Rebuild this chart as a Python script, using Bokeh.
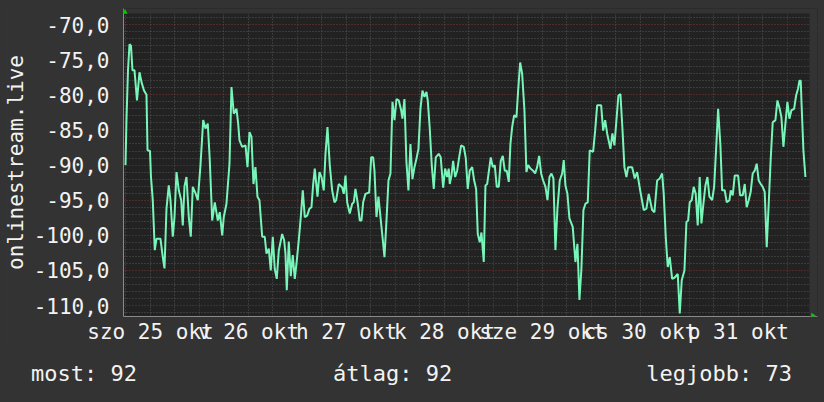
from bokeh.plotting import figure
from bokeh.layouts import column
from bokeh.models import (Range1d, FixedTicker, Grid, PolyAnnotation, Div,
                          BoxAnnotation, GlobalInlineStyleSheet)
from bokeh.embed import file_html
from bokeh.resources import INLINE

# ---- data (hours since 2025-10-25 00:00, signal in dB) ----
hours = [
    5.88, 6.12, 6.49, 6.86, 7.22, 7.59, 8.08, 8.69, 9.31, 9.80, 10.41, 11.02, 11.27, 11.88,
    12.12, 12.56, 13.05, 13.47, 14.45, 15.01, 15.43, 15.92, 16.48, 16.90, 17.46, 17.88,
    18.37, 18.93, 19.52, 19.91, 20.33, 20.82, 21.38, 21.87, 22.36, 23.02, 23.58, 24.25,
    24.91, 25.47, 26.03, 26.52, 26.94, 27.11, 27.75, 28.48, 28.97, 29.56, 29.95, 30.61,
    31.35, 31.84, 32.40, 33.06, 33.48, 33.80, 34.46, 35.27, 35.76, 36.25, 36.74, 37.22,
    37.71, 38.20, 38.69, 39.36, 39.99, 40.41, 40.97, 41.46, 41.95, 42.44, 42.93, 43.42,
    44.25, 44.74, 45.06, 45.38, 45.87, 46.36, 46.85, 47.34, 47.83, 48.32, 48.81, 49.30,
    49.79, 50.38, 50.94, 51.43, 51.85, 52.24, 52.90, 53.39, 53.88, 54.44, 54.86, 55.35,
    55.91, 56.50, 57.06, 57.48, 58.11, 58.95, 59.34, 59.76, 60.17, 60.81, 61.40, 61.79,
    62.20, 62.77, 63.26, 63.67, 64.09, 64.65, 65.56, 66.05, 66.54, 66.86, 67.35, 67.84,
    68.33, 68.82, 69.31, 69.80, 70.29, 70.78, 71.27, 71.76, 72.25, 72.81, 73.40, 73.71,
    74.20, 74.69, 75.18, 75.67, 76.16, 76.65, 77.14, 77.63, 78.12, 78.61, 79.10, 79.59,
    79.91, 80.40, 80.89, 81.38, 81.87, 82.60, 83.09, 83.68, 84.17, 84.66, 85.05, 85.30,
    85.72, 86.13, 86.62, 87.11, 87.60, 88.09, 88.73, 89.22, 89.71, 90.20, 90.79, 91.28,
    91.76, 92.16, 92.65, 93.06, 93.63, 94.04, 94.46, 94.85, 95.34, 95.83, 96.32, 96.81,
    97.30, 97.79, 98.28, 98.77, 99.26, 99.75, 100.16, 100.58, 101.07, 101.63, 102.05, 102.54,
    103.03, 103.59, 104.08, 104.50, 105.06, 105.72, 106.21, 106.70, 107.19, 107.68, 108.17, 108.74,
    109.23, 109.72, 110.21, 110.69, 111.18, 111.67, 112.24, 112.83, 113.22, 113.63, 114.12, 114.61,
    115.42, 116.08, 116.57, 117.06, 117.55, 118.04, 118.53, 119.10, 119.58, 120.42, 120.91, 121.40,
    122.38, 122.87, 123.36, 123.85, 124.65, 125.14, 125.63, 126.12, 126.61, 127.10, 127.59, 128.08,
    128.57, 128.99, 129.97, 130.61, 131.19, 132.00, 132.81, 133.47, 134.03, 134.87, 135.43, 136.09,
    136.73, 137.32, 137.71, 138.20, 138.69, 139.18, 139.77, 140.40, 141.14, 141.63, 142.12, 142.78,
    143.27, 143.68, 144.07, 144.56, 145.05, 145.54, 146.03, 146.52, 146.94, 147.43, 147.92, 148.41,
    148.90, 149.56, 150.05, 150.54, 151.03, 151.59, 152.01, 152.65, 153.14, 153.80, 154.12, 154.61,
    155.10, 155.93, 156.42, 157.06, 157.55, 158.03, 158.52, 159.01, 159.50, 159.99, 160.48, 160.97,
    161.46, 161.95, 162.44, 162.93, 163.42, 163.91, 164.40, 165.06, 165.55, 166.04, 166.53, 167.02,
    167.51, 168.00, 168.49, 168.98, 169.64, 170.13, 170.62, 170.94, 171.27, 171.43, 171.92, 172.41,
]
signal = [
    -90.0, -83.5, -76.5, -72.8, -73.0, -76.5, -76.5, -80.8, -76.8, -78.2, -79.4, -80.0, -87.9, -88.0,
    -91.7, -95.0, -102.1, -100.5, -100.5, -103.1, -104.7, -96.2, -92.9, -95.0, -100.2, -97.4,
    -91.0, -93.6, -95.0, -98.6, -93.0, -91.7, -97.4, -100.2, -93.1, -94.0, -95.0, -90.0,
    -83.6, -84.8, -84.1, -89.3, -95.3, -97.9, -95.3, -97.9, -96.7, -100.0, -97.4, -95.5,
    -89.8, -78.9, -82.7, -82.0, -84.1, -86.5, -87.4, -87.2, -90.3, -85.3, -86.0, -92.7,
    -90.3, -94.5, -95.0, -100.2, -100.2, -102.6, -101.9, -105.0, -100.2, -104.8, -106.2, -102.2,
    -99.8, -100.7, -102.6, -107.8, -100.9, -105.8, -102.8, -106.2, -103.6, -100.7, -97.4, -93.6,
    -97.4, -97.2, -96.2, -96.0, -92.7, -90.5, -94.5, -91.0, -91.7, -93.6, -88.4, -84.6,
    -90.0, -93.6, -95.3, -95.0, -92.7, -93.2, -94.1, -91.5, -95.3, -96.9, -95.5, -95.3,
    -93.4, -95.5, -97.9, -97.9, -95.3, -94.1, -93.9, -88.9, -88.9, -90.8, -97.4, -94.5,
    -97.4, -100.2, -103.1, -97.9, -92.2, -91.2, -81.0, -83.6, -80.6, -80.8, -82.2, -83.4,
    -80.6, -89.6, -93.6, -87.0, -92.0, -90.3, -89.1, -87.7, -82.0, -79.4, -80.3, -79.6,
    -80.8, -84.8, -90.0, -93.4, -88.9, -88.4, -88.9, -93.2, -90.5, -91.7, -90.5, -92.7,
    -91.5, -89.4, -91.7, -90.8, -88.9, -87.2, -87.4, -89.0, -93.4, -90.8, -90.3, -92.2,
    -93.4, -99.8, -101.0, -99.6, -103.8, -92.9, -92.7, -91.0, -88.9, -90.3, -90.0, -93.1,
    -93.1, -89.4, -88.7, -90.8, -90.8, -92.4, -87.0, -84.6, -82.9, -83.2, -79.4, -75.4,
    -77.0, -82.2, -91.0, -90.0, -90.5, -90.8, -91.2, -90.3, -88.7, -91.2, -92.2, -93.1,
    -95.0, -91.7, -91.2, -91.9, -102.1, -96.2, -92.2, -91.2, -89.3, -92.9, -94.1, -97.6,
    -98.8, -103.8, -101.2, -109.2, -104.7, -96.4, -95.5, -95.3, -87.9, -88.1, -85.1, -81.5,
    -81.5, -85.1, -83.6, -85.5, -87.7, -85.5, -87.2, -83.6, -80.1, -79.9, -84.8, -90.3,
    -91.7, -90.3, -90.3, -91.9, -91.0, -93.8, -96.4, -96.2, -94.1, -96.4, -96.7, -92.2,
    -91.9, -91.2, -94.1, -100.2, -104.5, -103.1, -106.2, -106.0, -105.5, -111.1, -106.4, -105.0,
    -98.1, -97.9, -95.3, -95.0, -93.1, -94.1, -98.6, -91.7, -98.3, -95.5, -92.9, -91.7,
    -94.5, -95.0, -93.1, -87.7, -82.0, -87.2, -93.6, -93.6, -95.3, -95.0, -93.6, -94.3,
    -91.5, -91.5, -94.3, -94.3, -92.7, -96.0, -95.0, -93.8, -91.2, -90.8, -89.8, -92.2,
    -92.7, -93.1, -93.8, -101.7, -95.5, -89.1, -83.9, -83.6, -80.8, -81.8, -83.2, -87.4,
    -84.1, -81.0, -83.4, -82.2, -82.0, -80.1, -79.1, -78.0, -78.0, -80.8, -87.9, -91.7,
]

y_ticks = [-70, -75, -80, -85, -90, -95, -100, -105, -110]
y_tick_labels = ["-70,0", "-75,0", "-80,0", "-85,0", "-90,0", "-95,0",
                 "-100,0", "-105,0", "-110,0"]
day_label_hours = [12, 36, 60, 84, 108, 132, 156]
day_labels = ["szo 25 okt", "v 26 okt", "h 27 okt", "k 28 okt",
              "sze 29 okt", "cs 30 okt", "p 31 okt"]
series_name = "onlinestream.live"
legend_names = ["most", "átlag", "legjobb"]
legend_values = [92, 92, 73]

# ---- styling ----
FONT = "DejaVu Sans Mono"
BACK = "#333333"
CANVAS = "#222222"
TEXT = "#f2f2f2"
LINE = "#78f5b9"
GRID_MINOR = "#555555"
GRID_MAJOR = "#7a3434"
ARROW = "#00cc00"

W = 824
H_MAIN, H_LEG = 350, 52

# graph area: x 5.39..173.4 h, y -111.55..-68.44 ; the frame is a little larger
# so that the axis arrows fit inside it
X_END, Y_TOP = 173.4, -68.44
p = figure(width=W, height=H_MAIN, output_backend="svg", toolbar_location=None,
           x_range=Range1d(5.39, 175.37), y_range=Range1d(-111.55, -67.72),
           min_border_left=123, min_border_right=7, min_border_top=8,
           min_border_bottom=34)
p.stylesheets = [GlobalInlineStyleSheet(css="body { background: %s; }" % BACK)]
p.background_fill_color = CANVAS
p.border_fill_color = BACK
p.outline_line_color = None
p.grid.visible = False

# grids
minor_x = [h for h in range(6, 174, 6) if h % 24]
major_x = [h for h in range(24, 174, 24)]
minor_y = [v for v in range(-111, -68) if v % 5]
for dim, ticks, col in [(0, minor_x, GRID_MINOR), (1, minor_y, GRID_MINOR),
                        (0, major_x, GRID_MAJOR), (1, y_ticks, GRID_MAJOR)]:
    p.add_layout(Grid(dimension=dim, ticker=FixedTicker(ticks=ticks),
                      grid_line_color=col, grid_line_dash="1 2", grid_line_width=1))

# strips outside the graph area in the page colour
p.add_layout(BoxAnnotation(bottom=Y_TOP, fill_color=BACK, fill_alpha=1, line_color=None))
p.add_layout(BoxAnnotation(left=X_END, fill_color=BACK, fill_alpha=1, line_color=None))

# axes
for ax in (p.xaxis[0], p.yaxis[0]):
    ax.major_tick_line_color = None
    ax.minor_tick_line_color = None
    ax.major_tick_out = 0
    ax.minor_tick_out = 0
    ax.axis_line_color = "#8a8a8a"
    ax.major_label_text_font = FONT
    ax.major_label_text_font_size = "21px"
    ax.major_label_text_color = TEXT

p.yaxis.ticker = FixedTicker(ticks=y_ticks)
p.yaxis.major_label_overrides = dict(zip(y_ticks, y_tick_labels))
p.yaxis.major_label_standoff = 14
p.yaxis.axis_label = series_name
p.yaxis.axis_label_standoff = 3
p.yaxis.axis_label_text_font = FONT
p.yaxis.axis_label_text_font_size = "21px"
p.yaxis.axis_label_text_font_style = "normal"
p.yaxis.axis_label_text_color = TEXT

p.xaxis.ticker = FixedTicker(ticks=day_label_hours)
p.xaxis.major_label_overrides = dict(zip(day_label_hours, day_labels))
p.xaxis.major_label_standoff = 3

p.line(hours, signal, line_color=LINE, line_width=2)

# axis arrows (screen units from the frame's bottom-left corner)
p.add_layout(PolyAnnotation(xs=[-1.2, 4.2, 1.5], ys=[302.7, 302.7, 307.5],
                            xs_units="screen", ys_units="screen",
                            fill_color=ARROW, fill_alpha=1, line_color=None))
p.add_layout(PolyAnnotation(xs=[687.7, 687.7, 692.3], ys=[3.7, -1.7, 1.0],
                            xs_units="screen", ys_units="screen",
                            fill_color=ARROW, fill_alpha=1, line_color=None))

# legend row below the graph
legend_css = ["left:31px", "left:333px", "right:32px"]
spans = "".join(
    '<span style="position:absolute;top:11px;%s;white-space:pre">%s: %d</span>'
    % (css, name, val)
    for css, name, val in zip(legend_css, legend_names, legend_values))
leg = Div(text='<div style="position:relative;width:%dpx;height:%dpx;'
               'font-family:\'%s\';font-size:22px;line-height:normal;color:%s">%s</div>'
               % (W, H_LEG, FONT, TEXT, spans),
          width=W, height=H_LEG, margin=0, styles={"background": BACK})

page = column(p, leg, spacing=0)
open("out.html", "w").write(file_html(page, INLINE))
